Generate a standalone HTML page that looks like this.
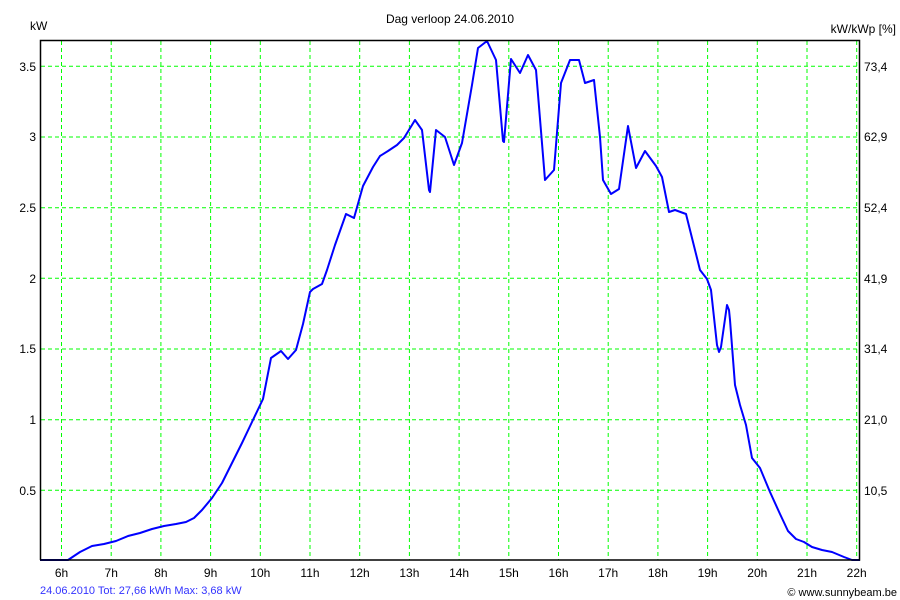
<!DOCTYPE html>
<html><head><meta charset="utf-8"><style>
html,body{margin:0;padding:0;background:#fff;}
svg{display:block;font-family:"Liberation Sans",sans-serif;}
</style></head><body>
<svg width="900" height="600" viewBox="0 0 900 600" xmlns="http://www.w3.org/2000/svg">
<rect width="900" height="600" fill="#fff"/>
<g stroke="#00ff00" stroke-width="1" stroke-dasharray="4,3" fill="none">
<line x1="61.5" y1="41" x2="61.5" y2="560"/>
<line x1="111.2" y1="41" x2="111.2" y2="560"/>
<line x1="160.9" y1="41" x2="160.9" y2="560"/>
<line x1="210.6" y1="41" x2="210.6" y2="560"/>
<line x1="260.3" y1="41" x2="260.3" y2="560"/>
<line x1="310" y1="41" x2="310" y2="560"/>
<line x1="359.7" y1="41" x2="359.7" y2="560"/>
<line x1="409.4" y1="41" x2="409.4" y2="560"/>
<line x1="459.1" y1="41" x2="459.1" y2="560"/>
<line x1="508.8" y1="41" x2="508.8" y2="560"/>
<line x1="558.5" y1="41" x2="558.5" y2="560"/>
<line x1="608.2" y1="41" x2="608.2" y2="560"/>
<line x1="657.9" y1="41" x2="657.9" y2="560"/>
<line x1="707.6" y1="41" x2="707.6" y2="560"/>
<line x1="757.3" y1="41" x2="757.3" y2="560"/>
<line x1="807" y1="41" x2="807" y2="560"/>
<line x1="856.7" y1="41" x2="856.7" y2="560"/>
<line x1="41" y1="66.3" x2="860" y2="66.3"/>
<line x1="41" y1="137" x2="860" y2="137"/>
<line x1="41" y1="207.7" x2="860" y2="207.7"/>
<line x1="41" y1="278.3" x2="860" y2="278.3"/>
<line x1="41" y1="349" x2="860" y2="349"/>
<line x1="41" y1="419.7" x2="860" y2="419.7"/>
<line x1="41" y1="490.3" x2="860" y2="490.3"/>
</g>
<polyline fill="none" stroke="#0000ff" stroke-width="2" stroke-linejoin="round" points="40,560 68,560 80,552 92,546 104,544 116,541 128,536 140,533 152,529 164,526 176,524 186,522 194,518 202,510 212,498 222,483 232,463 242,443 252,422 263,399 271,358 281,351 288,359 296,350 303,324 310,292 313,289 322,284 327,270 335,245 346,214 354,218 363,186 373,167 380,156 388,151 397,145 404,138 412,125 415,120 422,130 429,190 430,192 436,130 445,137 454,165 462,143 472,85 478,48 487,41 496,60 503,141 504,142 511,59 520,73 528,55 536,70 545,180 554,170 561,83 570,60 579,60 585,83 594,80 600,137 603,180 611,194 619,189 628,126 636,168 645,151 656,166 662,177 669,212 675,210 686,214 692,238 700,270 707,279 711,290 717,345 719,352 721,347 727,305 729,310 730,320 735,385 740,405 746,425 752,458 760,468 770,492 780,514 788,531 796,539 804,542 812,547 822,550 832,552 844,557 852,560 860,560"/>
<polyline fill="none" stroke="#000" stroke-width="1.5" points="40.5,560 40.5,40.5 859.5,40.5 859.5,560 40,560"/>
<g font-size="12" fill="#000">
<text x="30" y="30" text-anchor="start">kW</text>
<text x="450" y="23" text-anchor="middle">Dag  verloop 24.06.2010</text>
<text x="896" y="33" text-anchor="end">kW/kWp [%]</text>
<g text-anchor="end">
<text x="36" y="71">3.5</text><text x="36" y="141">3</text><text x="36" y="212">2.5</text>
<text x="36" y="283">2</text><text x="36" y="353">1.5</text><text x="36" y="424">1</text><text x="36" y="495">0.5</text>
</g>
<g text-anchor="start">
<text x="864" y="71">73,4</text><text x="864" y="141">62,9</text><text x="864" y="212">52,4</text>
<text x="864" y="283">41,9</text><text x="864" y="353">31,4</text><text x="864" y="424">21,0</text><text x="864" y="495">10,5</text>
</g>
<g text-anchor="middle">
<text x="61.5" y="577">6h</text><text x="111.2" y="577">7h</text><text x="160.9" y="577">8h</text><text x="210.6" y="577">9h</text>
<text x="260.3" y="577">10h</text><text x="310" y="577">11h</text><text x="359.7" y="577">12h</text><text x="409.4" y="577">13h</text>
<text x="459.1" y="577">14h</text><text x="508.8" y="577">15h</text><text x="558.5" y="577">16h</text><text x="608.2" y="577">17h</text>
<text x="657.9" y="577">18h</text><text x="707.6" y="577">19h</text><text x="757.3" y="577">20h</text><text x="807" y="577">21h</text><text x="856.7" y="577">22h</text>
</g>
</g>
<text x="40" y="594" font-size="11" fill="#3333ff">24.06.2010 Tot: 27,66 kWh Max: 3,68 kW</text>
<text x="897" y="596" font-size="11" fill="#000" text-anchor="end">© www.sunnybeam.be</text>
</svg>
</body></html>
